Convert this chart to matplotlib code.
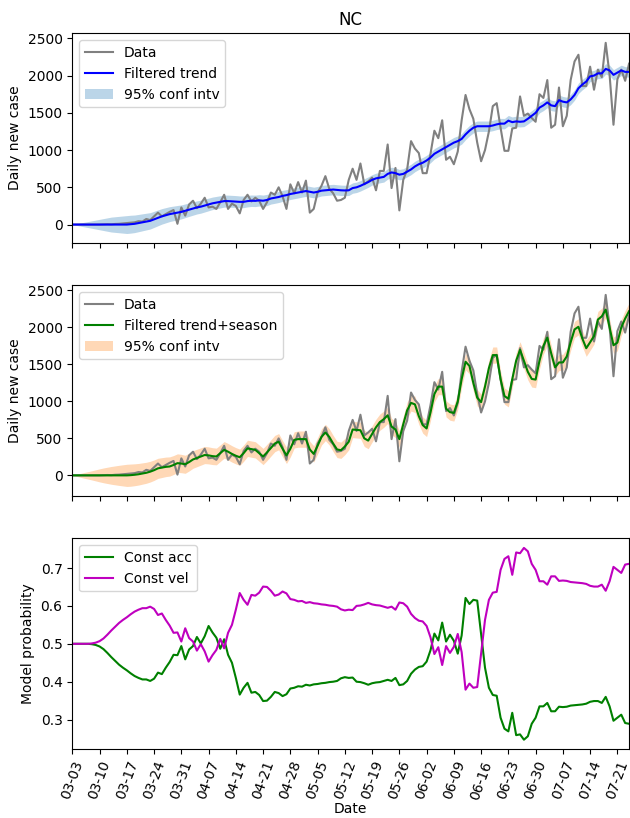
import numpy as np
import pandas as pd
import matplotlib
matplotlib.use("Agg")
import matplotlib.pyplot as plt

dates = pd.date_range("2020-03-03", "2020-07-24", freq="D")

# daily new cases (NC)
data = [0, 0, 0, 0, 0, 0, 0, 0, 2, 5,
        3, 8, 10, 15, 20, 25, 30, 45, 40, 75,
        60, 110, 160, 110, 140, 170, 195, 10, 230, 120,
        270, 320, 220, 280, 360, 230, 240, 210, 300, 400,
        210, 280, 250, 150, 330, 400, 310, 360, 320, 210,
        300, 430, 400, 500, 380, 210, 540, 420, 570, 430,
        590, 160, 210, 430, 520, 650, 480, 420, 320, 330,
        360, 600, 750, 600, 820, 540, 580, 630, 460, 720,
        720, 1075, 490, 760, 190, 600, 740, 1120, 1020, 960,
        690, 690, 950, 1260, 1160, 1400, 870, 910, 810, 980,
        1400, 1740, 1550, 1420, 1100, 850, 1000, 1250, 1590, 1630,
        1300, 990, 990, 1290, 1300, 1720, 1460, 1490, 1430, 1380,
        1750, 1700, 1940, 1300, 1340, 1840, 1320, 1460, 1940, 2190,
        2280, 1860, 1860, 2120, 1810, 2080, 1980, 2440, 2010, 1340,
        1950, 2080, 1930, 2160]

trend = [0, 0, 0, 0, 0, 0, 0, 0, 0, 0,
         0, 0, 0, 0, 0, 5, 10, 20, 30, 40,
         50, 70, 90, 110, 125, 140, 150, 160, 170, 185,
         200, 215, 230, 240, 255, 270, 285, 295, 305, 315,
         315, 312, 310, 305, 305, 315, 320, 318, 325, 320,
         330, 350, 360, 370, 385, 395, 410, 420, 430, 440,
         450, 440, 430, 440, 455, 460, 465, 470, 465, 460,
         458, 460, 490, 500, 520, 545, 570, 600, 620, 630,
         640, 680, 700, 690, 670, 680, 710, 740, 780, 810,
         830, 860, 900, 950, 980, 1010, 1040, 1070, 1100, 1120,
         1150, 1210, 1260, 1300, 1320, 1320, 1320, 1320, 1330, 1345,
         1355, 1355, 1395, 1375, 1385, 1380, 1385, 1420, 1460, 1500,
         1570, 1600, 1640, 1600, 1590, 1670, 1650, 1640, 1680, 1740,
         1830, 1880, 1920, 1990, 2000, 2030, 2030, 2090, 2070, 2010,
         2040, 2070, 2050, 2050]

trend_hw = [0, 10, 20, 30, 40, 50, 60, 70, 80, 90,
            100, 105, 110, 115, 120, 120, 118, 116, 114, 112,
            110, 108, 106, 104, 102, 100, 98, 96, 94, 92,
            90, 89, 88, 87, 86, 85, 84, 83, 82, 81,
            80, 80, 79, 79, 78, 78, 77, 77, 76, 76,
            75, 75, 75, 74, 74, 74, 73, 73, 73, 72,
            72, 72, 72, 71, 71, 71, 71, 70, 70, 70,
            70, 70, 70, 70, 70, 70, 70, 70, 70, 70,
            70, 70, 70, 70, 70, 70, 70, 70, 70, 70,
            70, 70, 70, 70, 70, 70, 70, 70, 70, 70,
            70, 70, 70, 70, 70, 70, 70, 70, 70, 70,
            70, 70, 70, 70, 70, 70, 70, 70, 70, 70,
            70, 70, 70, 70, 70, 70, 70, 70, 70, 70,
            70, 70, 70, 70, 70, 70, 70, 70, 70, 70,
            70, 70, 70, 70]

season = [0, 0, 0, 0, 0, 0, 0, 0, 0, 0,
          0, 0, 0, 0, 0, 3, 8, 15, 25, 35,
          50, 70, 95, 105, 115, 120, 140, 165, 160, 150,
          180, 215, 235, 255, 275, 270, 260, 255, 300, 345,
          320, 290, 265, 245, 300, 365, 355, 345, 300, 255,
          310, 370, 430, 455, 360, 270, 360, 480, 490, 490,
          490, 350, 290, 400, 520, 580, 520, 430, 350, 340,
          390, 455, 620, 615, 610, 500, 470, 560, 650, 720,
          760, 812, 660, 620, 490, 690, 880, 980, 960, 800,
          680, 634, 850, 1100, 1200, 1200, 900, 855, 844, 1000,
          1300, 1536, 1480, 1250, 1050, 990, 1200, 1450, 1626, 1626,
          1300, 1072, 1036, 1300, 1550, 1697, 1550, 1400, 1304, 1295,
          1550, 1750, 1862, 1650, 1460, 1527, 1527, 1608, 1800, 1973,
          2009, 1850, 1719, 1800, 1884, 2107, 2150, 2241, 2000, 1759,
          1795, 2000, 2120, 2219]

season_hw = [0, 12, 25, 38, 50, 62, 75, 88, 100, 110,
             120, 128, 136, 143, 150, 150, 148, 146, 144, 142,
             140, 138, 136, 134, 132, 130, 128, 126, 124, 122,
             120, 119, 118, 117, 116, 115, 114, 113, 112, 112,
             111, 111, 110, 110, 110, 110, 110, 110, 110, 110,
             110, 110, 110, 110, 110, 110, 110, 110, 110, 110,
             110, 110, 110, 110, 110, 110, 110, 110, 110, 110,
             110, 110, 110, 110, 110, 110, 110, 110, 110, 110,
             110, 110, 110, 110, 110, 110, 110, 110, 110, 110,
             110, 110, 110, 110, 110, 110, 110, 110, 110, 110,
             110, 110, 110, 110, 110, 110, 110, 110, 110, 110,
             110, 110, 110, 110, 110, 110, 110, 110, 110, 110,
             110, 110, 110, 110, 110, 110, 110, 110, 110, 110,
             110, 110, 110, 110, 110, 110, 110, 110, 110, 110,
             110, 110, 110, 110]

# probability of the constant velocity model
p_vel = [0.5, 0.5, 0.5, 0.5, 0.5, 0.501, 0.503, 0.507, 0.514, 0.524,
         0.535, 0.545, 0.555, 0.563, 0.570, 0.578, 0.585, 0.590, 0.594, 0.594,
         0.598, 0.592, 0.576, 0.580, 0.563, 0.548, 0.529, 0.530, 0.506, 0.541,
         0.515, 0.506, 0.482, 0.499, 0.480, 0.453, 0.470, 0.484, 0.513, 0.488,
         0.529, 0.550, 0.590, 0.634, 0.616, 0.603, 0.629, 0.627, 0.635, 0.651,
         0.650, 0.640, 0.627, 0.630, 0.638, 0.633, 0.618, 0.616, 0.612, 0.613,
         0.608, 0.610, 0.607, 0.606, 0.604, 0.603, 0.601, 0.600, 0.598, 0.591,
         0.588, 0.590, 0.589, 0.600, 0.601, 0.604, 0.608, 0.604, 0.602, 0.601,
         0.598, 0.595, 0.598, 0.590, 0.609, 0.607, 0.598, 0.579, 0.568, 0.561,
         0.559, 0.547, 0.517, 0.473, 0.491, 0.444, 0.494, 0.476, 0.492, 0.526,
         0.478, 0.379, 0.395, 0.384, 0.386, 0.475, 0.563, 0.616, 0.635, 0.637,
         0.695, 0.724, 0.731, 0.682, 0.741, 0.739, 0.753, 0.744, 0.711, 0.695,
         0.665, 0.665, 0.656, 0.678, 0.678, 0.666, 0.667, 0.666, 0.663, 0.662,
         0.661, 0.660, 0.658, 0.653, 0.651, 0.651, 0.656, 0.640, 0.665, 0.703,
         0.695, 0.687, 0.709, 0.711]

data = np.array(data, dtype=float)
trend = np.array(trend, dtype=float)
season = np.array(season, dtype=float)
trend_hw = np.array(trend_hw, dtype=float)
season_hw = np.array(season_hw, dtype=float)
p_vel = np.array(p_vel)
p_acc = 1 - p_vel

fig = plt.figure(figsize=(6.3, 8.18), dpi=100)
ax1 = fig.add_axes([0.1148, 0.7029, 0.8837, 0.2564])
ax2 = fig.add_axes([0.1148, 0.3936, 0.8837, 0.2576], sharex=ax1)
ax3 = fig.add_axes([0.1148, 0.0840, 0.8837, 0.2579], sharex=ax1)

ax1.plot(dates, data, color="grey", label="Data")
ax1.plot(dates, trend, color="b", label="Filtered trend")
ax1.fill_between(dates, trend - trend_hw, trend + trend_hw,
                 color="C0", alpha=0.3, linewidth=0, label="95% conf intv")
ax1.set_ylabel("Daily new case")
ax1.set_title("NC")
ax1.legend(loc="upper left")

ax2.plot(dates, data, color="grey", label="Data")
ax2.plot(dates, season, color="g", label="Filtered trend+season")
ax2.fill_between(dates, season - season_hw, season + season_hw,
                 color="C1", alpha=0.3, linewidth=0, label="95% conf intv")
ax2.set_ylabel("Daily new case")
ax2.legend(loc="upper left")

ax3.plot(dates, p_acc, color="g", label="Const acc")
ax3.plot(dates, p_vel, color="m", label="Const vel")
ax3.set_ylabel("Model probability")
ax3.set_xlabel("Date", labelpad=0)
ax3.legend(loc="upper left")

ax3.set_xlim(dates[0], dates[-1])
ax3.set_xticks(dates[::7])
ax3.set_xticklabels([d.strftime("%m-%d") for d in dates[::7]], rotation=70)
plt.setp(ax1.get_xticklabels(), visible=False)
plt.setp(ax2.get_xticklabels(), visible=False)

plt.savefig("out.png", dpi=100)
